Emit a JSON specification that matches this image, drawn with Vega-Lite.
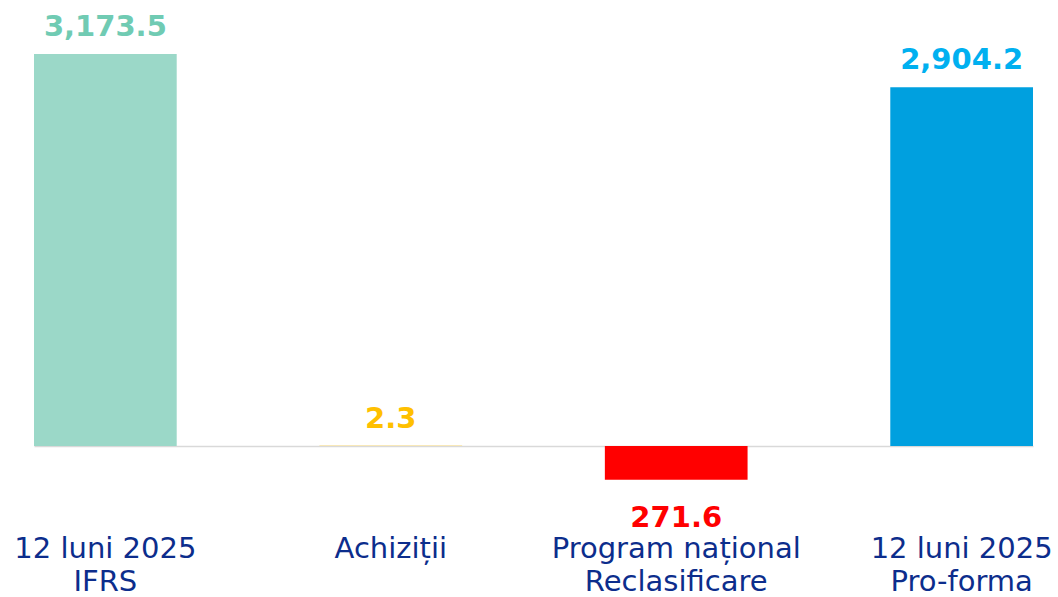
{
  "$schema": "https://vega.github.io/schema/vega-lite/v6.json",
  "width": 999,
  "height": 519,
  "autosize": {"type": "none"},
  "padding": {"left": 34, "top": 0, "right": 25, "bottom": 78},
  "background": "#ffffff",
  "config": {"view": {"stroke": null}, "font": "DejaVu Sans"},
  "data": {
    "values": [
      {"category": "12 luni 2025|IFRS", "value": 3173.5},
      {"category": "Achiziții", "value": 2.3},
      {"category": "Program național|Reclasificare", "value": -271.6},
      {"category": "12 luni 2025|Pro-forma", "value": 2904.2}
    ]
  },
  "encoding": {
    "x": {
      "field": "category",
      "type": "nominal",
      "sort": null,
      "scale": {"paddingInner": 0.5, "paddingOuter": 0},
      "axis": {
        "title": null,
        "domain": false,
        "ticks": false,
        "labelAngle": 0,
        "labelExpr": "split(datum.label, '|')",
        "labelFont": "DejaVu Sans",
        "labelFontSize": 29,
        "labelColor": "#0c2d8c",
        "labelLineHeight": 33,
        "labelPadding": 15,
        "labelBaseline": "top",
        "labelLimit": 0,
        "labelOverlap": false,
        "labelBound": false,
        "labelFlush": false
      }
    },
    "y": {
      "field": "value",
      "type": "quantitative",
      "scale": {"domain": [-590, 3610], "nice": false, "zero": false},
      "axis": {"values": [0], "grid": true, "gridColor": "#d9d9d9", "gridWidth": 1.5, "domain": false, "ticks": false, "labels": false, "title": null}
    }
  },
  "layer": [
    {
      "mark": {"type": "bar"},
      "encoding": {
        "fill": {
          "field": "category",
          "type": "nominal",
          "sort": null,
          "scale": {
            "domain": ["12 luni 2025|IFRS", "Achiziții", "Program național|Reclasificare", "12 luni 2025|Pro-forma"],
            "range": ["#9bd8c8", "#ffc000", "#ff0000", "#00a0df"]
          },
          "legend": null
        }
      }
    },
    {
      "transform": [{"filter": "datum.value >= 0"}],
      "mark": {"type": "text", "font": "DejaVu Sans", "fontWeight": "bold", "fontSize": 29, "baseline": "alphabetic", "dy": -18, "align": "center"},
      "encoding": {
        "text": {"field": "value", "type": "quantitative", "format": ",.1f"},
        "color": {
          "field": "category",
          "type": "nominal",
          "sort": null,
          "scale": {
            "domain": ["12 luni 2025|IFRS", "Achiziții", "Program național|Reclasificare", "12 luni 2025|Pro-forma"],
            "range": ["#70cbb3", "#ffc000", "#ff0000", "#00b0f0"]
          },
          "legend": null
        }
      }
    },
    {
      "transform": [{"filter": "datum.value < 0"}],
      "mark": {"type": "text", "font": "DejaVu Sans", "fontWeight": "bold", "fontSize": 29, "baseline": "alphabetic", "dy": 47, "align": "center", "color": "#ff0000", "text": {"expr": "format(abs(datum.value), ',.1f')"}}
    }
  ]
}
